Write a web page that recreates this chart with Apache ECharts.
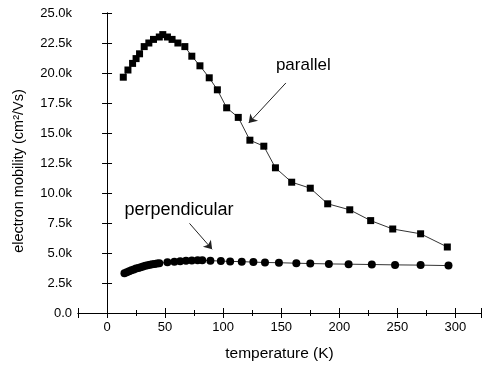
<!DOCTYPE html>
<html>
<head>
<meta charset="utf-8">
<script src="https://cdn.jsdelivr.net/npm/echarts@6/dist/echarts.min.js"></script>
<style>
  html, body { margin: 0; padding: 0; background: #fff; }
  #chart { width: 484px; height: 367px; }
</style>
</head>
<body>
<div id="chart"></div>
<script>
// temperature (K) / electron mobility (cm^2/Vs)
const parallelT = [14, 18, 22, 25, 28, 32, 36, 40, 45, 48, 52, 56, 61, 67, 73, 80, 88, 95, 103, 113, 123, 135, 145, 159, 175, 190, 209, 227, 246, 270, 293];
const parallelMu = [19650, 20250, 20800, 21200, 21600, 22200, 22500, 22800, 23000, 23200, 23000, 22800, 22500, 22200, 21400, 20600, 19600, 18600, 17100, 16300, 14400, 13900, 12100, 10900, 10400, 9100, 8600, 7700, 7000, 6600, 5500];

const perpT = [15, 17, 19, 21, 23, 25, 27, 29, 31, 33, 35, 37, 39, 41, 43, 45, 52, 58, 63, 68, 73, 78, 82, 89, 98, 106, 116, 126, 136, 148, 163, 175, 191, 208, 228, 248, 270, 294];
const perpMu = [3310, 3400, 3480, 3560, 3630, 3700, 3760, 3820, 3880, 3930, 3980, 4020, 4060, 4090, 4120, 4150, 4220, 4270, 4320, 4350, 4380, 4390, 4390, 4360, 4330, 4300, 4280, 4240, 4210, 4190, 4150, 4120, 4090, 4070, 4040, 4010, 3990, 3950];

// annotation text and arrows, in data units
const labels = [
  { text: 'parallel', at: [169, 20600], size: 17 },
  { text: 'perpendicular', at: [62, 8600], size: 18 },
];
const arrows = [
  [[154, 19170], [122, 15830]],
  [[71, 7470], [90.5, 5310]],
];

const font = '"Liberation Sans", Arial, sans-serif';
const chart = echarts.init(document.getElementById('chart'));

const zip = (xs, ys) => xs.map((x, i) => [x, ys[i]]);
const fmtK = (v) => (v === 0 ? '0.0' : (v / 1000).toFixed(1) + 'k');

const tickCommon = {
  axisLine: { show: true, lineStyle: { color: '#000', width: 1 } },
  axisTick: { show: true, inside: true, length: 5, lineStyle: { color: '#000' } },
  splitLine: { show: false },
};

chart.setOption({
  animation: false,
  grid: { left: 78, right: 1, top: 13, bottom: 54 },
  xAxis: [
    {
      type: 'value', min: -25, max: 322, splitNumber: 7,
      position: 'bottom',
      ...tickCommon,
      minorTick: { show: true, splitNumber: 2, length: 3, lineStyle: { color: '#000' } },
      axisLabel: { fontFamily: font, fontSize: 13, color: '#000', margin: 8,
        formatter: (v) => (v % 50 === 0 ? String(v) : '') },
      name: 'temperature (K)', nameLocation: 'middle', nameGap: 33,
      nameTextStyle: { fontFamily: font, fontSize: 15.5, color: '#000' },
    },
    {
      type: 'value', min: -25, max: 322, splitNumber: 7,
      position: 'top',
      ...tickCommon,
      minorTick: { show: true, splitNumber: 2, length: 3, lineStyle: { color: '#000' } },
      axisLabel: { show: false },
    },
  ],
  yAxis: [
    {
      type: 'value', min: 0, max: 25000, interval: 2500,
      position: 'left',
      ...tickCommon,
      axisLabel: { fontFamily: font, fontSize: 13, color: '#000', margin: 6, formatter: fmtK },
      name: 'electron mobility (cm²/Vs)', nameLocation: 'middle', nameGap: 52,
      nameTextStyle: { fontFamily: font, fontSize: 14.5, color: '#000', padding: [0, 0, 0, -16] },
    },
    {
      type: 'value', min: 0, max: 25000, interval: 2500,
      position: 'right',
      ...tickCommon,
      axisLabel: { show: false },
    },
  ],
  series: [
    {
      name: 'parallel', type: 'line',
      data: zip(parallelT, parallelMu),
      symbol: 'rect', symbolSize: 7,
      itemStyle: { color: '#000' },
      lineStyle: { color: '#333', width: 1 },
      markLine: {
        silent: true, symbol: ['none', 'arrow'], symbolSize: 8,
        label: { show: false },
        lineStyle: { color: '#222', width: 1, type: 'solid' },
        data: [[{ coord: arrows[0][0] }, { coord: arrows[0][1] }]],
      },
    },
    {
      name: 'perpendicular', type: 'line',
      data: zip(perpT, perpMu),
      symbol: 'circle', symbolSize: 8,
      itemStyle: { color: '#000' },
      lineStyle: { color: '#333', width: 1 },
      markLine: {
        silent: true, symbol: ['none', 'arrow'], symbolSize: 8,
        label: { show: false },
        lineStyle: { color: '#222', width: 1, type: 'solid' },
        data: [[{ coord: arrows[1][0] }, { coord: arrows[1][1] }]],
      },
    },
  ],
});

// annotation text placed through the grid's own coordinate conversion
chart.setOption({
  graphic: labels.map((l) => {
    const [px, py] = chart.convertToPixel({ gridIndex: 0 }, l.at);
    return {
      type: 'text', x: px, y: py, silent: true,
      style: { text: l.text, fontFamily: font, fontSize: l.size, fill: '#000', align: 'center', verticalAlign: 'middle' },
    };
  }),
});
</script>
</body>
</html>
